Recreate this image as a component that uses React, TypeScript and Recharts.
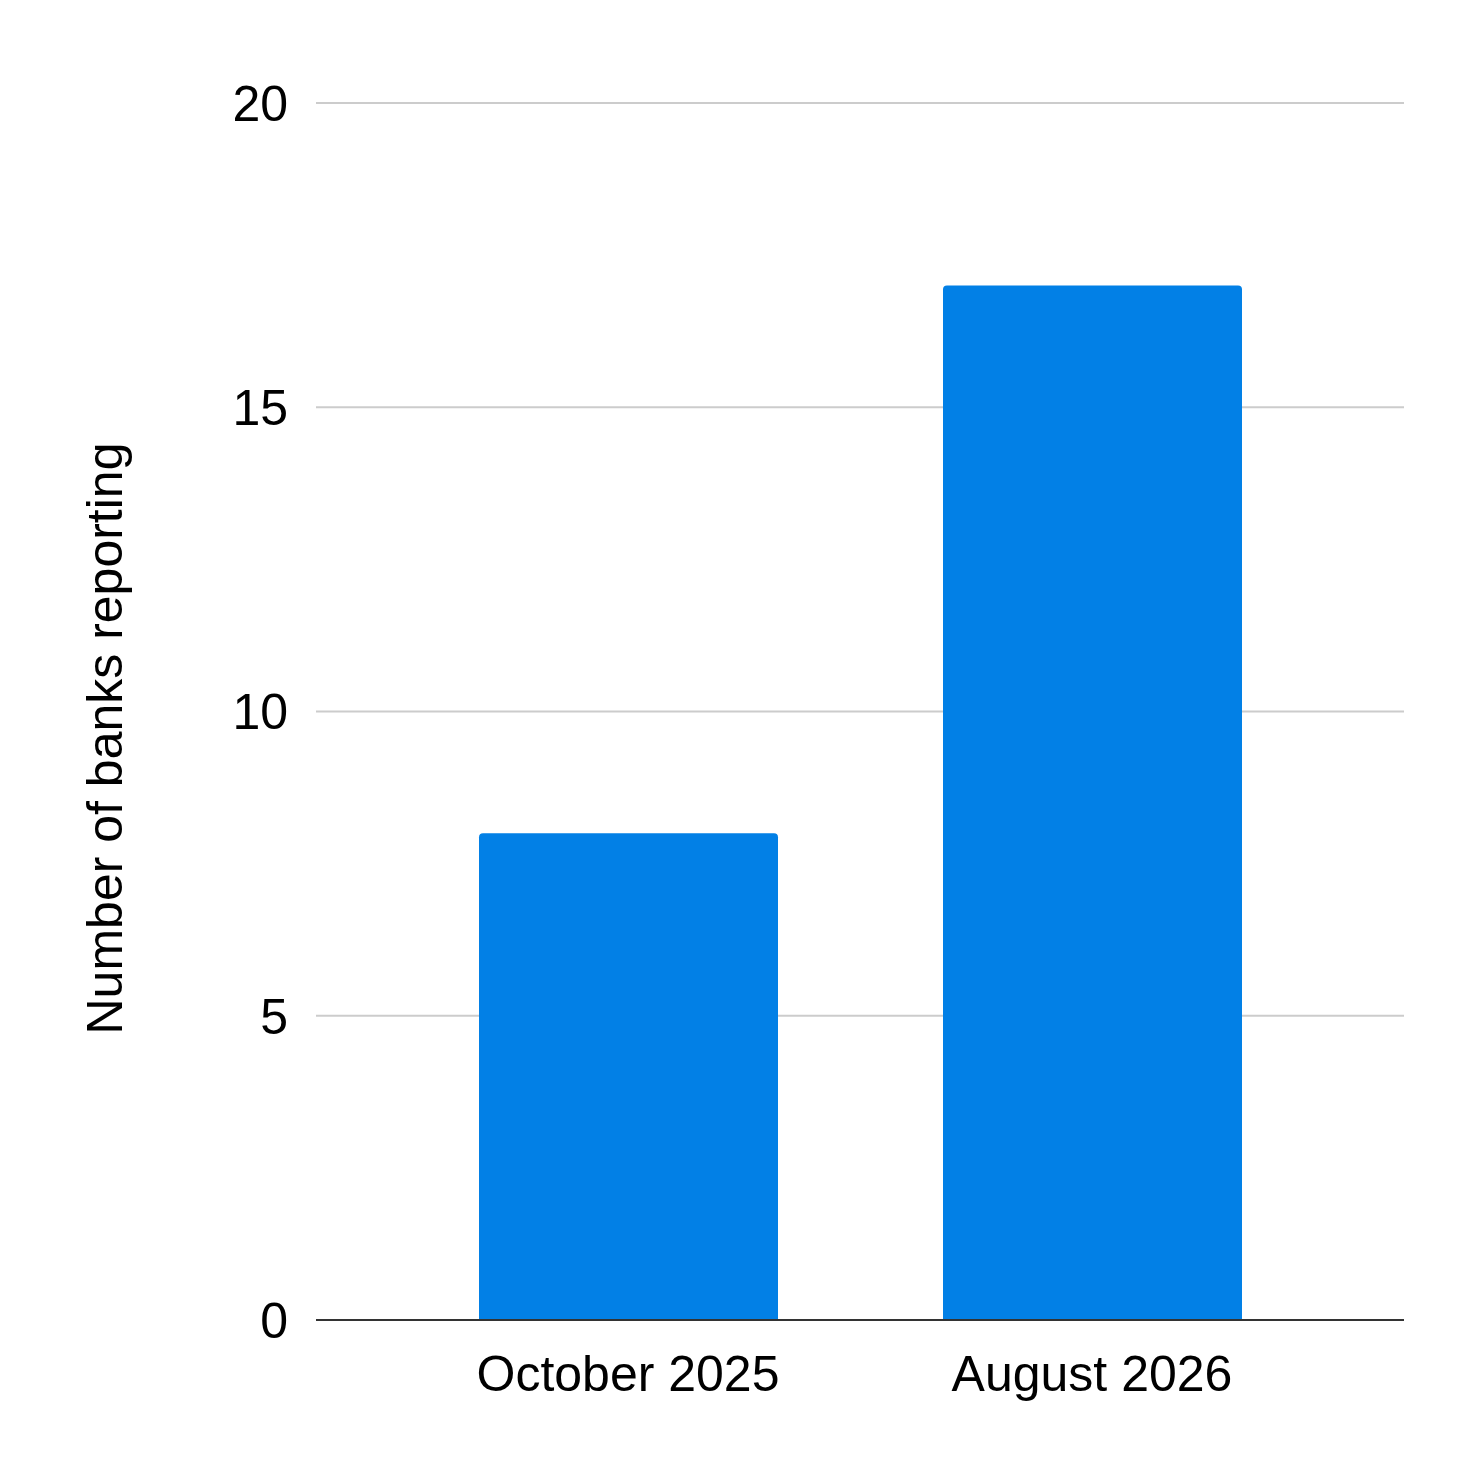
import { BarChart, Bar, XAxis, YAxis, CartesianGrid } from 'recharts'

const periods = ['October 2025', 'August 2026']
const banksReporting = [8, 17]
const yTicks = [0, 5, 10, 15, 20]

const data = periods.map((period, i) => ({ period, banks: banksReporting[i] }))

const FONT = '"Liberation Sans", Arial, sans-serif'

function YLabel() {
  const cx = 105
  const cy = 738.5
  return (
    <text
      x={cx}
      y={cy}
      transform={`rotate(-90, ${cx}, ${cy})`}
      textAnchor="middle"
      dominantBaseline="central"
      fontSize={50}
      fontFamily={FONT}
      fill="#000"
    >
      Number of banks reporting
    </text>
  )
}

export default function App() {
  return (
    <div style={{ position: 'absolute', left: 0, top: 0, background: '#fff' }}>
      <BarChart
        width={1477}
        height={1477}
        data={data}
        margin={{ top: 103, right: 73, bottom: 127, left: 116 }}
        barSize={299}
      >
        <CartesianGrid vertical={false} stroke="#cccccc" strokeWidth={2} />
        <XAxis
          dataKey="period"
          height={30}
          padding={{ left: 80, right: 80 }}
          axisLine={{ stroke: '#333333', strokeWidth: 2 }}
          tickLine={false}
          tickSize={0}
          tickMargin={35}
          tick={{ fontSize: 50, fill: '#000', fontFamily: FONT }}
        />
        <YAxis
          width={200}
          domain={[0, 20]}
          ticks={yTicks}
          axisLine={false}
          tickLine={false}
          tickSize={0}
          tickMargin={28}
          tick={{ fontSize: 50, fill: '#000', fontFamily: FONT }}
          label={<YLabel />}
        />
        <Bar dataKey="banks" fill="#0280E6" radius={[4, 4, 0, 0]} isAnimationActive={false} />
      </BarChart>
    </div>
  )
}
